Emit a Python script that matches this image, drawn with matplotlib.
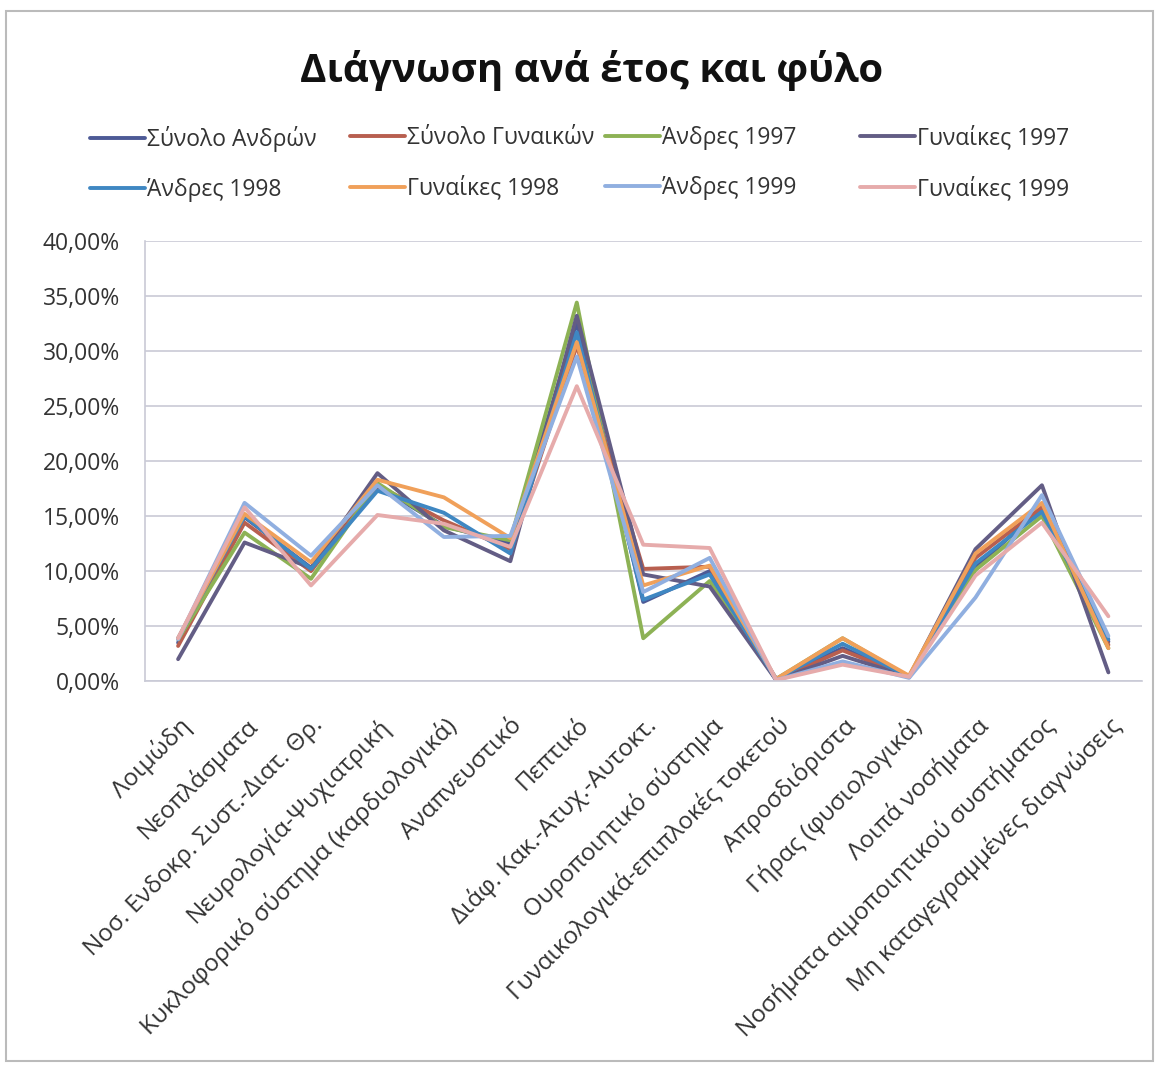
import matplotlib.pyplot as plt
from matplotlib.ticker import FuncFormatter
from matplotlib.patches import Rectangle

plt.rcParams['font.family'] = ['Open Sans', 'DejaVu Sans']

# categories (x axis)
categories = [
    "Λοιμώδη", "Νεοπλάσματα", "Νοσ. Ενδοκρ. Συστ.-Διατ. Θρ.",
    "Νευρολογία-Ψυχιατρική", "Κυκλοφορικό σύστημα (καρδιολογικά)",
    "Αναπνευστικό", "Πεπτικό", "Διάφ. Κακ.-Ατυχ.-Αυτοκτ.",
    "Ουροποιητικό σύστημα", "Γυναικολογικά-επιπλοκές τοκετού",
    "Απροσδιόριστα", "Γήρας (φυσιολογικά)", "Λοιπά νοσήματα",
    "Νοσήματα αιμοποιητικού συστήματος", "Μη καταγεγραμμένες διαγνώσεις",
]

# percentages
total_men   = [3.5, 14.9, 10.3, 17.7, 14.1, 12.5, 32.6, 7.2, 10.0, 0.2, 3.0, 0.4, 10.3, 15.8, 3.6]
total_women = [3.2, 14.4, 10.0, 17.8, 14.6, 12.0, 30.5, 10.2, 10.4, 0.1, 2.8, 0.4, 11.2, 15.8, 3.3]
men_1997    = [3.8, 13.5, 9.3, 18.0, 14.0, 12.8, 34.4, 3.9, 9.1, 0.2, 3.9, 0.4, 10.1, 15.0, 3.0]
women_1997  = [2.0, 12.6, 10.3, 18.9, 13.7, 10.9, 33.2, 9.7, 8.6, 0.1, 2.3, 0.4, 12.0, 17.8, 0.8]
men_1998    = [3.9, 15.0, 10.2, 17.3, 15.3, 11.6, 31.7, 7.4, 9.7, 0.2, 3.4, 0.4, 10.7, 15.4, 3.8]
women_1998  = [3.9, 15.2, 10.8, 18.3, 16.7, 13.0, 30.8, 8.7, 10.5, 0.2, 3.9, 0.5, 11.6, 16.2, 3.0]
men_1999    = [3.8, 16.2, 11.4, 17.8, 13.1, 13.2, 29.5, 8.1, 11.2, 0.1, 1.8, 0.3, 7.6, 16.9, 4.1]
women_1999  = [3.9, 15.8, 8.7, 15.1, 14.3, 12.2, 26.8, 12.4, 12.1, 0.1, 1.5, 0.4, 9.6, 14.4, 5.9]

series = [
    ("Σύνολο Ανδρών", total_men, "#4d5a96"),
    ("Σύνολο Γυναικών", total_women, "#b85f4f"),
    ("Άνδρες 1997", men_1997, "#8db255"),
    ("Γυναίκες 1997", women_1997, "#635d85"),
    ("Άνδρες 1998", men_1998, "#3f87c2"),
    ("Γυναίκες 1998", women_1998, "#f0a05a"),
    ("Άνδρες 1999", men_1999, "#90afe0"),
    ("Γυναίκες 1999", women_1999, "#e6abab"),
]

fig = plt.figure(figsize=(11.59, 10.66), dpi=100)
ax = fig.add_axes([0.125, 0.361, 0.86, 0.413])

x = list(range(len(categories)))
handles = []
for name, vals, col in series:
    h, = ax.plot(x, [v / 100 for v in vals], color=col, lw=2.8, label=name,
                 solid_joinstyle='round', solid_capstyle='round')
    handles.append(h)

ax.set_xlim(-0.5, len(categories) - 0.5)
ax.set_ylim(0, 0.40)
ax.set_yticks([i * 0.05 for i in range(9)])
ax.yaxis.set_major_formatter(FuncFormatter(lambda v, p: f"{v*100:.2f}%".replace(".", ",")))
ax.grid(axis='y', color='#c9cad6', lw=1.2)
ax.set_axisbelow(True)
for s in ['top', 'right']:
    ax.spines[s].set_visible(False)
ax.spines['left'].set_color('#c9cad6')
ax.spines['bottom'].set_color('#c9cad6')
ax.spines['left'].set_linewidth(1.2)
ax.spines['bottom'].set_linewidth(1.2)
ax.tick_params(axis='y', length=0, labelsize=16.5, labelcolor='#333333', pad=18)
ax.tick_params(axis='x', length=0, labelsize=17.5, labelcolor='#333333', pad=23)
ax.set_xticks(x)
ax.set_xticklabels(categories, rotation=45, ha='right', rotation_mode='anchor')

fig.text(0.51, 0.934, "Διάγνωση ανά έτος και φύλο", ha='center', va='center',
         fontsize=29, fontweight='bold', color='#111111')

# legend: one small legend per column, two rows each
col_x = [90, 350, 605, 860]
for c, px in enumerate(col_x):
    idx = [c, c + 4]
    fig.legend([handles[i] for i in idx], [series[i][0] for i in idx],
               loc='upper left', bbox_to_anchor=(px / 1159, 0.882),
               frameon=False, fontsize=16.5, handlelength=2.4, handletextpad=0.1,
               labelspacing=1.15, borderpad=0, borderaxespad=0,
               labelcolor='#333333')

fig.patches.append(Rectangle((0.005, 0.005), 0.99, 0.985, transform=fig.transFigure,
                             fill=False, edgecolor='#bbbbbb', lw=1.5))

fig.savefig("out.png", dpi=100, facecolor='white')
